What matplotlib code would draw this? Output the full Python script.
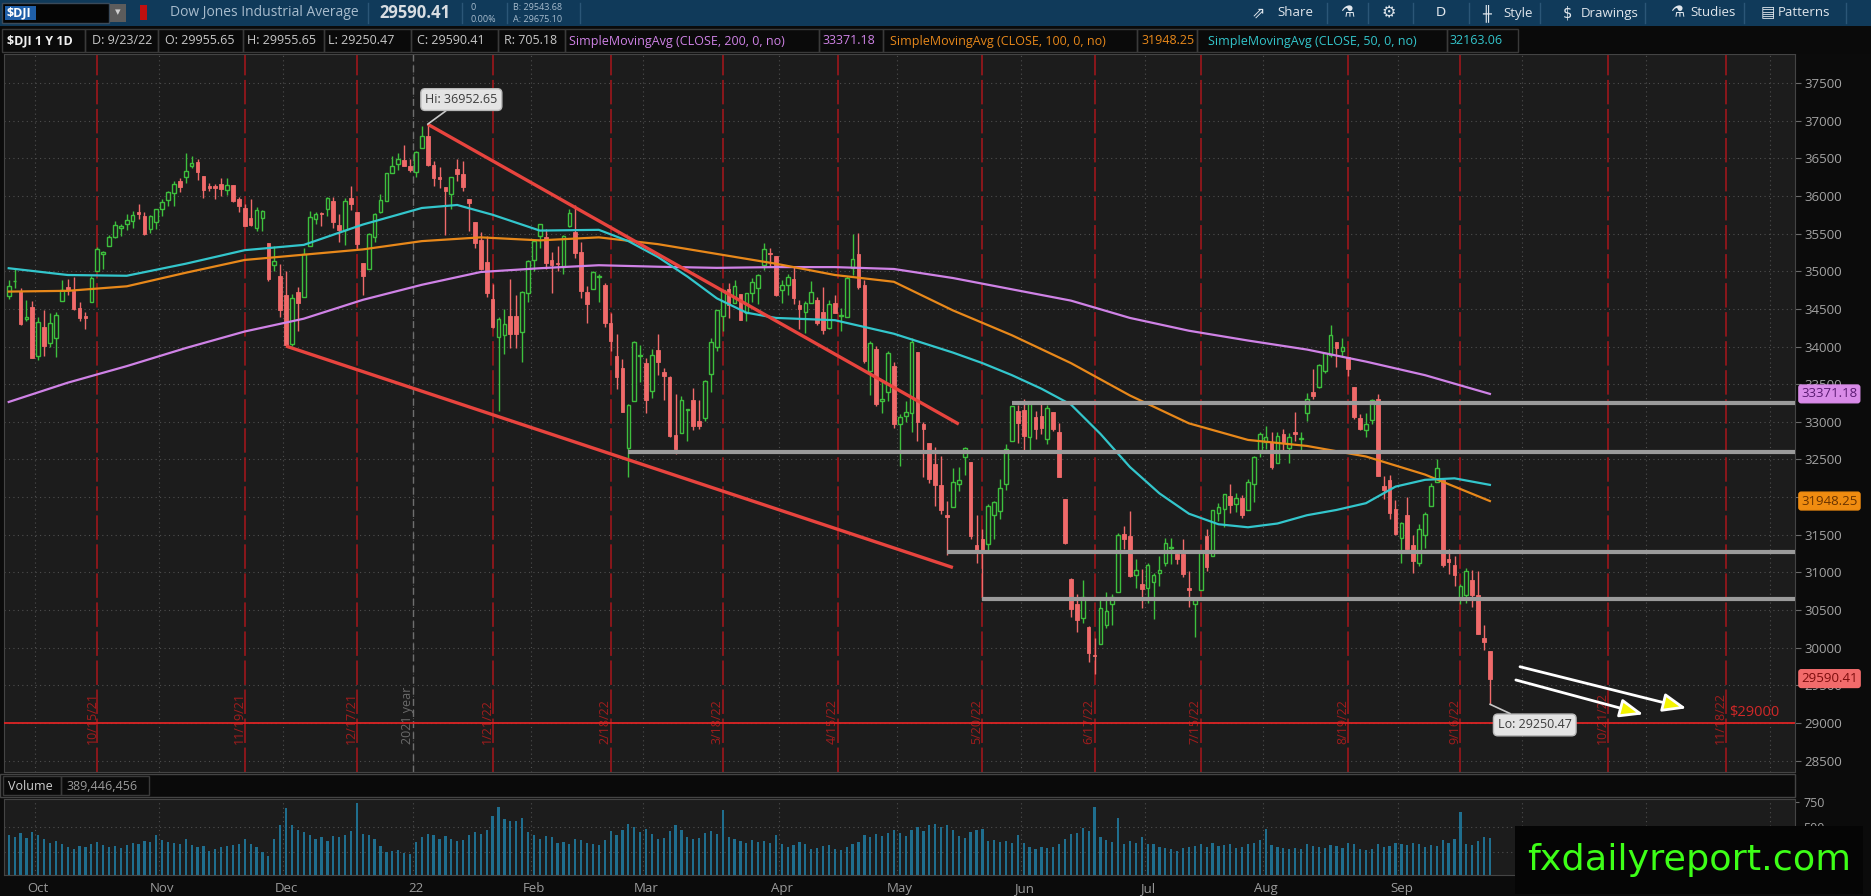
import numpy as np
import pandas as pd
import matplotlib
matplotlib.use("Agg")
import matplotlib.pyplot as plt
import matplotlib.transforms as mtransforms
from matplotlib import font_manager
from matplotlib.patches import Rectangle

# trading calendar (1 Y, daily bars, plus blank future space)
first_day = "2021-09-24"
last_day = "2022-12-30"
holidays = ["2021-11-25", "2021-12-24", "2022-01-17", "2022-02-21", "2022-04-15",
            "2022-05-30", "2022-06-20", "2022-07-04", "2022-09-05", "2022-11-24", "2022-12-26"]

# $DJI daily candles, Sep 24 2021 .. Sep 23 2022
opens = [
    34676, 34864, 34741, 34367, 34528,
    33880, 34259, 34050, 34117, 34608, 34789, 34735, 34509, 34412, 34589, 35000, 35226, 35333, 35460, 35572, 35630, 35672, 35792, 35739, 35557, 35655,
    35833, 35946, 36044, 36205, 36250, 36397, 36454, 36260, 36135, 36130, 36160, 36078, 36142, 35963, 35838, 35709, 35571, 35707, 35375, 35080, 34940,
    34678, 34037, 34722, 34661, 35329, 35700, 35777, 35829, 35936, 35610, 35549, 35978, 35782, 35104, 35025, 35452, 35787, 35939, 36302, 36421, 36483, 36397,
    36321, 36636, 36800, 36410, 36249, 36113, 36020, 36357, 36298, 35960, 35650, 35410, 35125, 34630, 34127, 34150, 34406, 34400, 34194, 34716,
    35152, 35463, 35452, 35143, 35110, 35055, 35603, 35520, 35262, 34720, 34766, 34920, 34816, 34319, 33880, 33718, 32650, 33276, 33870,
    33778, 33409, 33953, 33667, 33597, 32823, 32848, 33159, 33293, 33009, 33052, 33629, 33998, 34406, 34760, 34576, 34702, 34441, 34706, 34784, 35085, 35232, 35202,
    34746, 34822, 34894, 34546, 34461, 34581, 34612, 34464, 34246, 34582, 34406, 34390, 35048, 35224, 34813, 33670, 33966, 33283, 33390, 33742,
    32978, 33072, 33124, 33929, 32965, 32720, 32441, 32162, 31760, 31873, 32168, 32532, 32470, 31365, 31438, 31372, 31764, 31815, 32170, 32751, 33139,
    33160, 32800, 33060, 33079, 32766, 33125, 32862, 31981, 30918, 30586, 30399, 30280, 29902, 30048, 30300, 30578, 30743, 31515, 31489, 30970, 30851,
    30790, 30878, 30993, 31130, 31327, 31244, 31247, 30797, 30580, 30768, 31488, 31216, 31783, 31847, 32014, 31909, 31994, 31833, 32175, 32608,
    32729, 32730, 32455, 32833, 32658, 32867, 32770, 33117, 33391, 33463, 33673, 33893, 34056, 33935, 33861, 33461, 33047, 32892, 33022, 33305, 32151, 32230, 31840,
    31454, 31768, 31361, 31132, 31499, 31888, 32207, 32228, 31172, 31105, 30650, 30706, 30896, 30694, 30134, 29956,
]
highs = [
    34879, 35043, 34775, 34612, 34600,
    34395, 34489, 34440, 34460, 34885, 34896, 34927, 34598, 34465, 34933, 35324, 35267, 35478, 35669, 35629, 35765, 35794, 35892, 35783, 35747, 35820,
    35960, 36071, 36197, 36233, 36565, 36528, 36484, 36260, 36172, 36157, 36241, 36233, 36148, 35983, 35891, 35963, 35855, 35812, 35375, 35330, 35098,
    35000, 34700, 34790, 35310, 35800, 35789, 35789, 35982, 35990, 35763, 35979, 36134, 35782, 35104, 35512, 35767, 36020, 36304, 36527, 36571, 36679, 36484,
    36595, 36935, 36953, 36464, 36382, 36123, 36258, 36486, 36461, 35960, 35650, 35522, 35466, 34826, 34395, 34500, 34894, 34685, 34740, 35147,
    35423, 35632, 35555, 35259, 35336, 35481, 35824, 35874, 35393, 34800, 35005, 34967, 34850, 34440, 34161, 33833, 33236, 34076, 34014,
    33851, 33961, 34173, 33712, 33607, 33368, 33347, 33177, 33456, 33296, 33559, 34107, 34486, 34755, 34845, 34886, 34702, 34710, 34915, 34961, 35372, 35305, 35202,
    34886, 34968, 35055, 34622, 34611, 34869, 34655, 34792, 34624, 34690, 34513, 34938, 35493, 35503, 34882, 34072, 34002, 33548, 33944, 33797,
    33101, 33272, 34118, 33929, 33000, 32720, 32664, 32541, 31943, 32384, 32400, 32664, 32470, 31768, 31577, 31903, 31946, 32244, 32701, 33213, 33220,
    33297, 33248, 33146, 33270, 33221, 33125, 32979, 31981, 30923, 30708, 30905, 30294, 30123, 30649, 30743, 30719, 31522, 31616, 31811, 31185, 31045,
    31119, 30999, 31215, 31464, 31458, 31285, 31441, 31015, 30637, 31295, 31583, 31833, 31922, 32043, 32180, 32051, 32027, 32243, 32552, 32869,
    32942, 32869, 32863, 32902, 32857, 33125, 32862, 33378, 33705, 33768, 33925, 34281, 34056, 34112, 33861, 33461, 33110, 33123, 33299, 33365, 32282, 32300, 31968,
    31670, 32004, 31501, 31647, 31805, 32187, 32507, 32228, 31310, 31219, 30842, 31055, 31035, 31013, 30305, 29956,
]
lows = [
    34626, 34775, 34287, 34340, 33843,
    33817, 33872, 34000, 33867, 34604, 34687, 34481, 34333, 34235, 34588, 34998, 35033, 35333, 35445, 35463, 35553, 35568, 35691, 35486, 35505, 35563,
    35729, 35873, 35865, 36046, 36170, 36370, 36208, 35975, 36063, 35961, 35994, 36009, 35913, 35790, 35600, 35596, 35531, 35528, 34867, 34998, 34396,
    34006, 34006, 34200, 34661, 35329, 35627, 35597, 35733, 35576, 35387, 35350, 35812, 35297, 34683, 35025, 35393, 35777, 35939, 36302, 36350, 36395, 36317,
    36246, 36636, 36400, 36131, 36111, 35475, 35831, 36205, 36072, 35530, 35308, 35011, 34656, 34248, 33150, 33900, 33984, 33982, 33800, 34595,
    35004, 35315, 35030, 34714, 35001, 34962, 35592, 35170, 34650, 34318, 34765, 34589, 34262, 33940, 33440, 33129, 32272, 33276, 33530,
    33115, 33322, 33617, 33295, 32801, 32579, 32848, 32752, 32889, 32900, 33013, 33400, 33935, 34206, 34380, 34576, 34353, 34333, 34597, 34566, 35011, 35060, 34668,
    34576, 34683, 34565, 34237, 34176, 34581, 34283, 34170, 34227, 34451, 34202, 34390, 34956, 34760, 33786, 33362, 33214, 33114, 33279, 32913,
    32417, 32994, 32865, 32744, 32272, 32188, 31885, 31781, 31228, 31873, 32084, 32294, 31449, 31125, 30636, 31271, 31449, 31704, 32090, 32751, 32717,
    32597, 32608, 32772, 32845, 32700, 32883, 32268, 31378, 30404, 30207, 30330, 29813, 29653, 30048, 30261, 30307, 30743, 31305, 30937, 30794, 30524,
    30589, 30380, 30824, 31084, 31116, 31106, 30940, 30547, 30143, 30768, 31023, 31216, 31689, 31602, 31795, 31801, 31725, 31833, 31938, 32529,
    32646, 32376, 32455, 32588, 32460, 32741, 32597, 33010, 33302, 33451, 33650, 33857, 33729, 33856, 33611, 33044, 32892, 32800, 32966, 32279, 31976, 31705, 31494,
    31120, 31262, 30992, 31080, 31325, 31888, 32207, 31066, 30977, 30818, 30575, 30597, 30542, 30183, 29974, 29250,
]
closes = [
    34798, 34870, 34300, 34390, 33844,
    34326, 34003, 34315, 34417, 34755, 34746, 34496, 34378, 34377, 34912, 35295, 35259, 35457, 35609, 35603, 35677, 35742, 35757, 35491, 35731, 35820,
    35913, 36053, 36158, 36124, 36328, 36432, 36320, 36080, 36100, 36100, 36087, 36143, 35931, 35871, 35602, 35619, 35814, 35804, 34899, 35136, 34484,
    34022, 34640, 34580, 35227, 35719, 35754, 35755, 35971, 35650, 35544, 35927, 35898, 35365, 34932, 35493, 35754, 35950, 36302, 36398, 36488, 36398, 36338,
    36585, 36799, 36407, 36236, 36231, 36068, 36252, 36290, 36113, 35912, 35369, 35029, 34715, 34265, 34364, 34297, 34168, 34160, 34725, 35132,
    35405, 35629, 35111, 35089, 35091, 35463, 35768, 35241, 34738, 34566, 34989, 34934, 34312, 34079, 33596, 33132, 33224, 34059, 33893,
    33295, 33891, 33795, 33615, 32818, 32633, 33286, 33174, 32944, 32945, 33544, 34063, 34481, 34755, 34553, 34808, 34359, 34708, 34861, 34956, 35294, 35229, 34678,
    34818, 34922, 34641, 34497, 34584, 34721, 34308, 34220, 34565, 34451, 34412, 34912, 35161, 34793, 33811, 34049, 33240, 33302, 33916, 32977,
    33061, 33128, 34061, 32998, 32899, 32246, 32161, 31834, 31730, 32197, 32223, 32655, 31490, 31253, 31262, 31880, 31929, 32120, 32637, 33213, 32990,
    32813, 33248, 32900, 32916, 33180, 32910, 32273, 31393, 30517, 30365, 30669, 29927, 29889, 30530, 30484, 30677, 31501, 31439, 30947, 31029, 30775,
    31097, 30968, 31037, 31385, 31338, 31174, 30982, 30773, 30630, 31289, 31073, 31828, 31875, 32037, 31900, 31990, 31762, 32198, 32530, 32845,
    32798, 32397, 32813, 32727, 32803, 32833, 32775, 33310, 33337, 33761, 33913, 34152, 33981, 33999, 33707, 33064, 32910, 32970, 33292, 32283, 32099, 31791, 31510,
    31656, 31318, 31146, 31581, 31775, 32152, 32381, 31105, 31135, 30962, 30822, 31020, 30706, 30184, 30077, 29590,
]
# volume in millions
volumes = [
    420, 400, 440, 390, 450,
    420, 380, 340, 360, 330, 300, 280, 310, 300, 330, 350, 320, 300, 310, 290, 320, 340, 330, 360, 350, 420,
    370, 350, 340, 330, 380, 320, 300, 310, 260, 280, 300, 310, 320, 330, 380, 330, 300, 250, 210, 380, 520,
    690, 520, 470, 450, 420, 380, 400, 360, 410, 400, 420, 460, 740, 430, 420, 380, 310, 250, 260, 270, 240, 230,
    350, 400, 430, 420, 380, 410, 380, 360, 370, 420, 450, 430, 470, 610, 700, 580, 560, 560, 590, 450,
    420, 380, 410, 400, 340, 350, 330, 380, 370, 340, 330, 320, 370, 460, 420, 470, 530, 500, 450,
    480, 430, 380, 390, 460, 520, 470, 400, 380, 390, 440, 460, 430, 670, 400, 380, 360, 340, 370, 350, 360, 340, 420,
    330, 300, 320, 350, 330, 280, 290, 310, 320, 280, 270, 300, 330, 350, 420, 400, 430, 410, 440, 470,
    440, 410, 470, 500, 460, 520, 530, 500, 520, 470, 410, 390, 450, 470, 480, 360, 370, 350, 360, 340, 420,
    340, 300, 280, 300, 290, 300, 330, 380, 430, 440, 490, 460, 700, 400, 370, 350, 590, 330, 360, 340, 400,
    330, 330, 300, 290, 280, 260, 290, 300, 310, 330, 300, 340, 310, 320, 330, 290, 300, 330, 340, 370,
    480, 320, 300, 290, 280, 290, 280, 330, 310, 300, 290, 320, 310, 290, 340, 330, 280, 270, 280, 330, 300, 310, 340,
    330, 320, 340, 330, 300, 320, 310, 370, 340, 380, 650, 330, 320, 360, 400, 389,
]

# moving averages (bar number -> value)
ma_bars = [0, 10, 20, 30, 40, 50, 60, 70, 80, 90, 100, 110, 120, 130, 140, 150, 160, 170, 180, 190, 200, 210, 220, 230, 240, 251]
sma100 = [34730, 34740, 34800, 34980, 35150, 35220, 35290, 35400, 35450, 35410, 35450, 35360, 35230, 35100, 34950, 34860,
          34480, 34150, 33780, 33350, 32980, 32760, 32680, 32540, 32300, 31948.25]
sma200 = [33264, 33520, 33740, 33980, 34200, 34370, 34620, 34820, 34990, 35040, 35080, 35060, 35045, 35055, 35055, 35030,
          34910, 34760, 34610, 34380, 34210, 34080, 33960, 33800, 33620, 33371.18]
sma50_bars = [0, 10, 20, 30, 40, 50, 60, 70, 76, 82, 90, 100, 105, 110, 115, 120, 125, 130, 140, 150, 160, 165, 170,
              175, 180, 185, 190, 195, 200, 205, 210, 215, 220, 225, 230, 235, 240, 245, 251]
sma50 = [35040, 34950, 34940, 35100, 35280, 35350, 35620, 35840, 35880, 35750, 35540, 35550, 35400, 35190, 34930, 34640,
         34450, 34380, 34350, 34170, 33920, 33780, 33620, 33440, 33230, 32840, 32400, 32050, 31780, 31640, 31600, 31650,
         31760, 31830, 31920, 32140, 32230, 32250, 32163.06]

expiry_dates = ["2021-10-15", "2021-11-19", "2021-12-17", "2022-01-21", "2022-02-18", "2022-03-18", "2022-04-15",
                "2022-05-20", "2022-06-17", "2022-07-15", "2022-08-19", "2022-09-16", "2022-10-21", "2022-11-18"]
month_labels = ["Oct", "Nov", "Dec", "22", "Feb", "Mar", "Apr", "May", "Jun", "Jul", "Aug", "Sep", "Oct", "Nov", "Dec"]

# drawings
channel_upper = [("2022-01-05", 36952.65), ("2022-05-16", 32970)]
channel_lower = [("2021-12-01", 34006), ("2022-05-13", 31065)]
level_prices = [33250, 32600, 31270, 30650]
level_starts = ["2022-05-27", "2022-02-24", "2022-05-12", "2022-05-20"]
target_price = 29000
arrow_paths = [((256.1, 29748), (284.3, 29196)), ((255.4, 29572), (277.0, 29116))]

assert len(opens) == len(highs) == len(lows) == len(closes) == len(volumes)

PANEL = "#1c1c1c"
GREEN = "#3dbf3d"
RED = "#f06a6a"
VIOLET = "#cf82e6"
ORANGE = "#e8881a"
CYAN = "#33c6cc"

W, H = 1871, 896
plt.rcParams["font.family"] = ["Open Sans", "DejaVu Sans"]
names = {f.name for f in font_manager.fontManager.ttflist}
narrow = "Liberation Sans Narrow" if "Liberation Sans Narrow" in names else "DejaVu Sans"

fig = plt.figure(figsize=(W / 100, H / 100), dpi=100, facecolor="#0b0b0b")


def px_axes(l, t, r, b):
    return fig.add_axes([l / W, 1 - b / H, (r - l) / W, (b - t) / H])


days = pd.date_range(first_day, last_day, freq=pd.offsets.CustomBusinessDay(holidays=holidays))


def bar_of(d):
    d = pd.Timestamp(d)
    i = days.searchsorted(d)
    return i if days[i] == d else i - 0.5


n = len(closes)
x = np.arange(n)
o, h, l, c = (np.array(v, dtype=float) for v in (opens, highs, lows, closes))
XLIM = (-0.8, 302.7)
month_starts = [days.searchsorted(m) for m in pd.date_range("2021-10-01", "2022-12-01", freq="MS")]

# ---------------- price panel ----------------
ax = px_axes(4, 54, 1795, 772)
ax.set_facecolor(PANEL)
ax.set_xlim(*XLIM)
ax.set_ylim(28350, 37885)
ax.yaxis.tick_right()
ax.set_yticks(np.arange(28500, 37501, 500))
ax.tick_params(axis="y", labelcolor="#a3a3a3", color="#6a6a6a", labelsize=9.5, length=4, pad=3)
ax.set_xticks([])
for s in ax.spines.values():
    s.set_color("#444444")

for p in np.arange(28500, 37501, 500):
    ax.axhline(p, color="#4e4e4e", lw=0.8, ls=(0, (1, 3)), zorder=1)
for m in month_starts:
    ax.axvline(m - 0.5, color="#4e4e4e", lw=0.8, ls=(0, (1, 3)), zorder=1)

for d in expiry_dates:
    b = bar_of(d)
    ax.axvline(b, color="#a8161b", lw=1.1, ls=(0, (16, 3)), zorder=1.5)
    ts = pd.Timestamp(d)
    ax.text(b - 0.9, 28720, f"{ts.month}/{ts.day}/{ts.strftime('%y')}", rotation=90, ha="center", va="bottom",
            color="#a11d1d", fontsize=9, zorder=1.6)
ax.axvline(68.5, color="#6e6e6e", lw=1, ls=(0, (5, 3)), zorder=1.5)
ax.text(67.6, 28720, "2021 year", rotation=90, ha="center", va="bottom", color="#6a6a6a", fontsize=9, zorder=1.6)

# candles
up = c >= o
ax.vlines(x, l, h, colors=np.where(up, GREEN, RED), lw=1.0, zorder=3)
body_lo = np.minimum(o, c)
body_h = np.maximum(np.abs(c - o), 10)
ax.bar(x[up], body_h[up], bottom=body_lo[up], width=0.62, facecolor=PANEL, edgecolor=GREEN, linewidth=1.0, zorder=4)
ax.bar(x[~up], body_h[~up], bottom=body_lo[~up], width=0.62, facecolor=RED, edgecolor=RED, linewidth=0.6, zorder=4)

ax.plot(ma_bars, sma200, color=VIOLET, lw=1.6, zorder=5)
ax.plot(ma_bars, sma100, color=ORANGE, lw=1.6, zorder=5)
ax.plot(sma50_bars, sma50, color=CYAN, lw=1.6, zorder=5)

for line in (channel_upper, channel_lower):
    ax.plot([bar_of(line[0][0]), bar_of(line[1][0])], [line[0][1], line[1][1]],
            color="#e8443e", lw=2.4, solid_capstyle="butt", zorder=6)
for p, d in zip(level_prices, level_starts):
    ax.hlines(p, bar_of(d), XLIM[1], color="#9b9b9b", lw=3, zorder=6)

ax.axhline(target_price, color="#dd2424", lw=1.3, zorder=6)
ax.text(291.5, target_price + 45, f"${target_price}", color="#d02828", fontsize=10.5, ha="left", va="bottom", zorder=6)

for p0, p1 in arrow_paths:
    ax.annotate("", xy=p1, xytext=p0, zorder=7,
                arrowprops=dict(arrowstyle="-|>,head_length=0.95,head_width=0.38", fc="#f4f400", ec="white",
                                lw=2, mutation_scale=15, shrinkA=0, shrinkB=0))

hi_bar = bar_of(channel_upper[0][0])
ax.annotate("Hi: 36952.65", xy=(hi_bar, highs[hi_bar]),
            xytext=(76.7, 37280), ha="center", va="center", fontsize=9, color="#3c3c3c", zorder=8,
            bbox=dict(boxstyle="round,pad=0.35", fc="#e4e4e4", ec="#b8b8b8"),
            arrowprops=dict(arrowstyle="-", color="#c8c8c8", lw=1.2, shrinkA=0, shrinkB=0))
ax.annotate("Lo: 29250.47", xy=(n - 1, lows[-1]), xytext=(258.6, 28975), ha="center", va="center", fontsize=9,
            color="#3c3c3c", zorder=8, bbox=dict(boxstyle="round,pad=0.35", fc="#e4e4e4", ec="#b8b8b8"),
            arrowprops=dict(arrowstyle="-", color="#c8c8c8", lw=1.2, shrinkA=0, shrinkB=0))

yt = mtransforms.blended_transform_factory(ax.transAxes, ax.transData)
for val, fc, tc in ((sma200[-1], "#d98be8", "#5a1a72"), (sma100[-1], "#f08c10", "#6a3300"), (closes[-1] + 0.41, "#f26b6b", "#7c0c0c")):
    ax.text(1.0035, val, f"{val:.2f}", transform=yt, ha="left", va="center", fontsize=9.5, color=tc, clip_on=False,
            zorder=9, bbox=dict(boxstyle="round,pad=0.18", fc=fc, ec=fc))

# ---------------- volume panel ----------------
vax = px_axes(4, 799, 1795, 875)
vax.set_facecolor(PANEL)
vax.set_xlim(*XLIM)
vax.set_ylim(20, 780)
for s in vax.spines.values():
    s.set_color("#444444")
for p in (250, 500):
    vax.axhline(p, color="#4e4e4e", lw=0.8, ls=(0, (1, 3)), zorder=1)
for m in month_starts:
    vax.axvline(m - 0.5, color="#4e4e4e", lw=0.8, ls=(0, (1, 3)), zorder=1)
vax.bar(x, volumes, width=0.38, color="#1f6e8e", zorder=2)
vax.yaxis.tick_right()
vax.set_yticks([250, 500, 750])
vax.tick_params(axis="y", labelcolor="#a3a3a3", color="#6a6a6a", labelsize=9, length=3, pad=3)
vax.set_xticks(month_starts)
vax.set_xticklabels(month_labels)
vax.tick_params(axis="x", labelcolor="#9a9a9a", length=0, labelsize=9.5, pad=5)

# ---------------- header, strips, watermark (pixel overlay) ----------------
ov = fig.add_axes([0, 0, 1, 1], zorder=20)
ov.set_xlim(0, W)
ov.set_ylim(H, 0)
ov.axis("off")
ov.patch.set_alpha(0)

ov.add_patch(Rectangle((0, 0), W, 26, fc="#103a5a", ec="none"))
ov.add_patch(Rectangle((2, 3), 107, 20, fc="#050505", ec="#3a4a5a", lw=1))
ov.add_patch(Rectangle((5, 6), 31, 14, fc="#1f5fa8", ec="none"))
ov.text(7, 13, "$DJI", color="white", fontsize=9, fontweight="bold", va="center")
ov.add_patch(Rectangle((110, 4), 16, 18, fc="#5c5c5c", ec="none"))
ov.text(118, 13, "▾", color="#d0d0d0", fontsize=8, ha="center", va="center")
ov.add_patch(Rectangle((140, 5), 7, 15, fc="#c01010", ec="none"))
ov.text(170, 13, "Dow Jones Industrial Average", color="#a8bccd", fontsize=10, va="center")
ov.text(379, 13, "29590.41", color="#d8dde2", fontsize=12, fontweight="bold", va="center")
ov.text(471, 8, "0", color="#a8bccd", fontsize=6.5, va="center")
ov.text(471, 19, "0.00%", color="#a8bccd", fontsize=6.5, va="center")
ov.text(513, 8, "B: 29543.68", color="#a8bccd", fontsize=6.5, va="center")
ov.text(513, 19, "A: 29675.10", color="#a8bccd", fontsize=6.5, va="center")
for sx in (368, 462, 507, 580, 1327, 1368, 1413, 1469, 1540, 1645, 1744, 1846):
    ov.plot([sx, sx], [3, 23], color="#2b5677", lw=1)
for tx, s, fs in ((1252, "⇗", 11.5), (1277, "Share", 9.5), (1340, "⚗", 11.5), (1382, "⚙", 11.5), (1436, "D", 9.5),
                  (1482, "╫", 10.5), (1503, "Style", 9.5), (1563, "$", 10.5), (1581, "Drawings", 9.5),
                  (1670, "⚗", 11.5), (1690, "Studies", 9.5), (1761, "▤", 11), (1778, "Patterns", 9.5)):
    ov.text(tx, 13, s, color="#e0e6ec", fontsize=fs, va="center", family=["DejaVu Sans"] if len(s) == 1 else None)

ov.add_patch(Rectangle((0, 26), W, 28, fc="#0a0a0a", ec="none"))
cells = [2, 85, 158, 243, 324, 411, 498, 565, 819, 883, 1137, 1197, 1447, 1518]
for a, b in zip(cells[:-1], cells[1:]):
    ov.add_patch(Rectangle((a, 29), b - a, 23, fc="none", ec="#3a3a3a", lw=1))
row2 = [(7, "$DJI 1 Y 1D", "#f0f0f0", "bold"), (92, "D: 9/23/22", "#c8c8c8", "normal"),
        (165, "O: 29955.65", "#c8c8c8", "normal"), (247, "H: 29955.65", "#c8c8c8", "normal"),
        (328, "L: 29250.47", "#c8c8c8", "normal"), (417, "C: 29590.41", "#c8c8c8", "normal"),
        (504, "R: 705.18", "#c8c8c8", "normal"),
        (569, "SimpleMovingAvg (CLOSE, 200, 0, no)", VIOLET, "normal"), (823, f"{sma200[-1]:.2f}", VIOLET, "normal"),
        (890, "SimpleMovingAvg (CLOSE, 100, 0, no)", ORANGE, "normal"), (1142, f"{sma100[-1]:.2f}", ORANGE, "normal"),
        (1208, "SimpleMovingAvg (CLOSE, 50, 0, no)", CYAN, "normal"), (1450, f"{sma50[-1]:.2f}", CYAN, "normal")]
for tx, s, col, wt in row2:
    ov.text(tx, 41, s, color=col, fontsize=9, fontweight=wt, va="center")

ov.add_patch(Rectangle((0, 774), 1795, 23, fc="#0a0a0a", ec="#444444", lw=1))
ov.add_patch(Rectangle((3, 776), 58, 19, fc="none", ec="#3a3a3a", lw=1))
ov.add_patch(Rectangle((61, 776), 88, 19, fc="none", ec="#3a3a3a", lw=1))
ov.text(8, 786, "Volume", color="#cfcfcf", fontsize=9, va="center")
ov.text(67, 786, "389,446,456", color="#9a9a9a", fontsize=9, va="center")

ov.add_patch(Rectangle((1515, 826), 348, 68, fc="#050505", ec="none"))
wm = ov.text(1689, 860, "fxdailyreport.com", ha="center", va="center", color="#3dff17", fontsize=30, family=narrow)
bw = wm.get_window_extent(fig.canvas.get_renderer()).width
wm.set_fontsize(30 * 322 / bw)

fig.savefig("out.png", dpi=100, facecolor=fig.get_facecolor())
